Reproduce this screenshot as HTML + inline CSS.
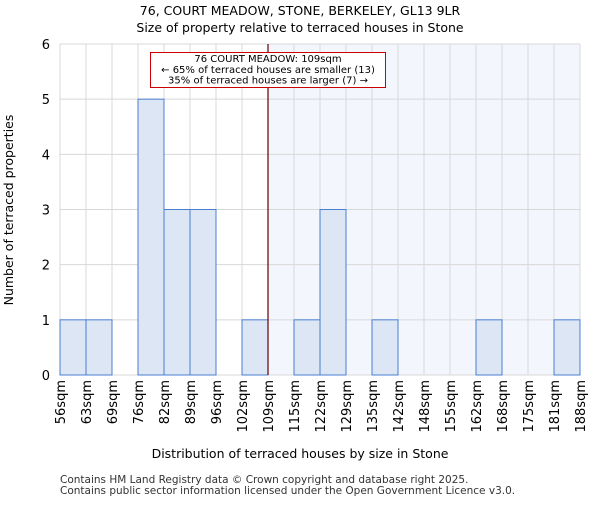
<!DOCTYPE html>
<html><head><meta charset="utf-8"><style>body{margin:0;background:#fff}svg{font-family:"DejaVu Sans","Liberation Sans",sans-serif}</style></head>
<body>
<svg id="c" width="600" height="500" xmlns="http://www.w3.org/2000/svg"></svg>
<script>
const binLabels=["56sqm","63sqm","69sqm","76sqm","82sqm","89sqm","96sqm","102sqm","109sqm","115sqm","122sqm","129sqm","135sqm","142sqm","148sqm","155sqm","162sqm","168sqm","175sqm","181sqm","188sqm"];
const counts=[1,1,0,5,3,3,0,1,0,1,3,0,1,0,0,0,1,0,0,1];
const yTicks=[0,1,2,3,4,5,6];
const markerIndex=8;
const NS="http://www.w3.org/2000/svg",svg=document.getElementById('c');
const L=60,R=580,T=44,B=375,bw=(R-L)/counts.length;
const x=i=>L+i*bw, y=v=>B-(B-T)*v/6;
function el(t,a,txt){const e=document.createElementNS(NS,t);for(const k in a)e.setAttribute(k,a[k]);if(txt!=null)e.textContent=txt;svg.appendChild(e);return e;}
let e;
e=el('rect',{x:x(markerIndex),y:T,width:R-x(markerIndex),height:B-T,fill:'#f3f6fd'});


for(let i=0;i<binLabels.length;i++){e=el('line',{x1:x(i),x2:x(i),y1:T,y2:B,stroke:'#d8d8d8'});

}
yTicks.forEach(t=>{e=el('line',{x1:L,x2:R,y1:y(t),y2:y(t),stroke:'#d8d8d8'});


e=el('text',{x:L-10,y:y(t)+5,'text-anchor':'end','font-size':13},t);

});
counts.forEach((c,i)=>{if(!c)return;e=el('rect',{x:x(i),y:y(c),width:bw,height:B-y(c),fill:'#dce6f5',stroke:'#4a7fd0','stroke-width':1});

});
binLabels.forEach((l,i)=>{e=el('text',{transform:`translate(${x(i)+5},380) rotate(-90)`,'text-anchor':'end','font-size':13},l);

});
e=el('line',{x1:x(markerIndex),x2:x(markerIndex),y1:T,y2:B,stroke:'#660000','stroke-width':1.2});


e=el('rect',{x:150.5,y:52.5,width:235,height:35,fill:'#fff',stroke:'#cc0000'});


[["76 COURT MEADOW: 109sqm",62],["← 65% of terraced houses are smaller (13)",73],["35% of terraced houses are larger (7) →",83.5]].forEach(a=>{e=el('text',{x:268,y:a[1],'text-anchor':'middle','font-size':10},a[0]);

});
e=el('text',{x:300,y:15,'text-anchor':'middle','font-size':12.5},"76, COURT MEADOW, STONE, BERKELEY, GL13 9LR");


e=el('text',{x:300,y:32,'text-anchor':'middle','font-size':12.5},"Size of property relative to terraced houses in Stone");


e=el('text',{x:300,y:458,'text-anchor':'middle','font-size':12.5},"Distribution of terraced houses by size in Stone");


e=el('text',{transform:'translate(13,210) rotate(-90)','text-anchor':'middle','font-size':12.5},"Number of terraced properties");


e=el('text',{x:60,y:483,'font-size':10.5,fill:'#333'},"Contains HM Land Registry data © Crown copyright and database right 2025.");


e=el('text',{x:60,y:494,'font-size':10.5,fill:'#333'},"Contains public sector information licensed under the Open Government Licence v3.0.");


</script>
</body></html>
